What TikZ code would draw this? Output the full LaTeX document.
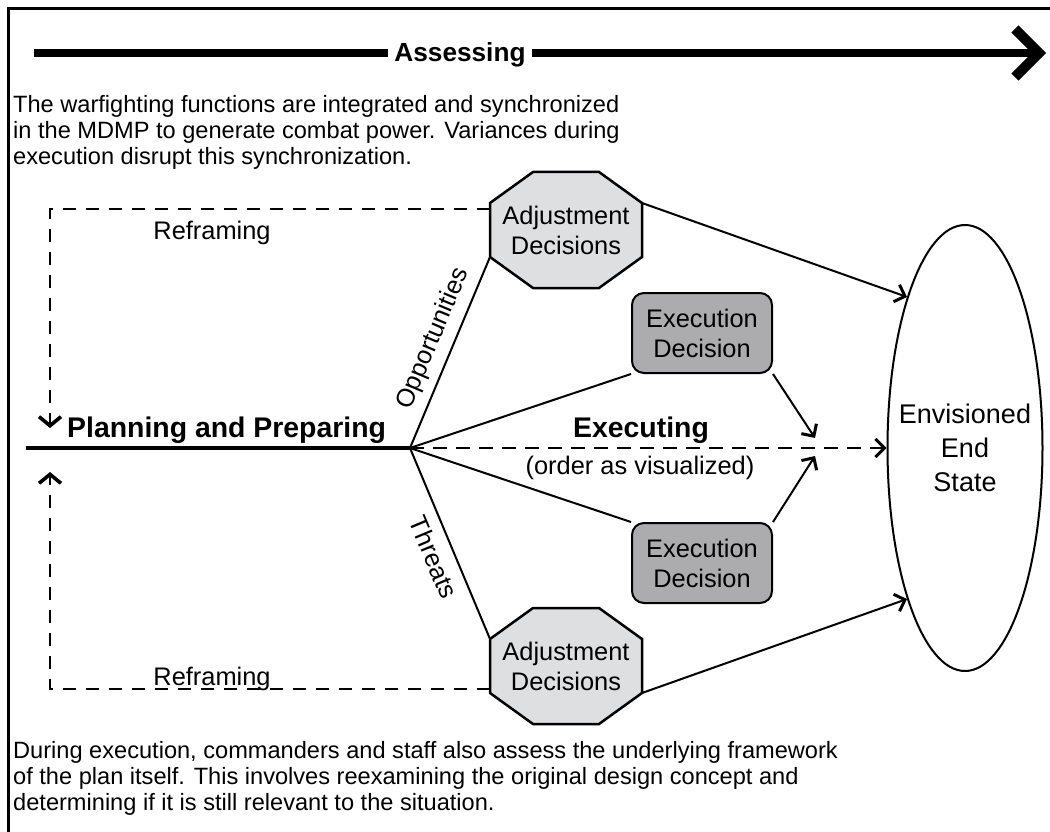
\documentclass[tikz,border=0pt]{standalone}
\usepackage{fontspec}
\setmainfont{Liberation Sans}
\usetikzlibrary{positioning,arrows.meta,shapes.geometric}
\definecolor{adjgray}{RGB}{222,223,225}
\definecolor{exegray}{RGB}{172,172,175}
\tikzset{
  para/.style={anchor=west,align=left,inner sep=0pt,font=\fontsize{23.6}{26}\selectfont},
  lab/.style={inner sep=0pt,align=center,font=\fontsize{25.4}{30}\selectfont},
  bold/.style={inner sep=0pt,font=\fontsize{28.4}{34}\selectfont\bfseries},
  link/.style={line width=2pt},
  tip/.style={-{Straight Barb[length=9pt,width=18pt,line width=3pt]}},
  refr/.style={line width=2.6pt,dash pattern=on 13pt off 10pt,-{Straight Barb[length=9pt,width=22pt,line width=3.6pt]}},
  octa/.style={draw,line width=2.5pt,fill=adjgray,line join=miter},
  exebox/.style={lab,draw,line width=2pt,fill=exegray,rounded corners=12pt,minimum width=140pt,minimum height=80pt}
}

\begin{document}
\begin{tikzpicture}[x=1pt,y=-1pt]
  \useasboundingbox (0,0) rectangle (1050,832);
  \draw [line width=3pt](8,832) -- (8,9) -- (1050,9);

  % assessing
  \coordinate (assstart) at(34,53);
  \coordinate (assend) at(1046,53);
  \draw [line width=8pt,-{Straight Barb[length=24pt,width=48pt,line width=10pt]}](assstart) -- (assend);
  \node[bold,fill=white,inner xsep=6pt,inner ysep=2pt,font=\fontsize{26.2}{30}\selectfont\bfseries,anchor=base] at(460,62)(ass){Assessing};

  \node[para] at(13,132)(toptext){The warfighting functions are integrated and synchronized\\in the MDMP to generate combat power. Variances during\\execution disrupt this synchronization.};
  \node[para] at(13,778)(bottext){During execution, commanders and staff also assess the underlying framework\\of the plan itself. This involves reexamining the original design concept and\\determining if it is still relevant to the situation.};

  % adjustment decisions
  \foreach \nm/\cy in {adjtop/230,adjbot/666}{
    \draw [octa](533,\cy-58) -- (599,\cy-58) -- (642,\cy-27) coordinate(\nm-ne) -- (642,\cy+27) coordinate(\nm-se)
      -- (599,\cy+58) -- (533,\cy+58) -- (490,\cy+27) coordinate(\nm-sw) -- (490,\cy-27) coordinate(\nm-nw) -- cycle;
    \node[lab] at(566,\cy)(\nm){Adjustment\\Decisions};
  }

  \node[exebox] at(702,333)(exetop){Execution\\Decision};
  \node[exebox] at(702,563)(exebot){Execution\\Decision};

  \node[draw,ellipse,line width=2pt,minimum width=155pt,minimum height=446pt,inner sep=0pt] at(965,448)(ell){};
  \node[lab,font=\fontsize{27}{34}\selectfont] at(ell.center)(endstate){Envisioned\\End\\State};

  % planning and preparing
  \coordinate (planstart) at(26,448);
  \coordinate (fan) at(410,448);
  \draw [line width=4pt](planstart) -- (fan);
  \node[bold,anchor=base west] at(67,437)(plan){Planning and Preparing};

  % reframing
  \coordinate (reftop) at(490,209);
  \coordinate (refbot) at(490,689);
  \coordinate (cornertop) at(50,209);
  \coordinate (cornerbot) at(50,689);
  \coordinate (downtip) at(50,428);
  \coordinate (uptip) at(50,472);
  \draw [refr](reftop) -- (cornertop) -- (downtip);
  \draw [refr](refbot) -- (cornerbot) -- (uptip);
  \node[lab,anchor=base] at(212,239)(reframetop){Reframing};
  \node[lab,anchor=base] at(212,685)(reframebot){Reframing};

  % executing
  \draw [link](fan) -- node[lab,sloped,above=8pt,pos=0.53]{Opportunities} (adjtop-sw);
  \draw [link](fan) -- node[lab,sloped,below=10pt,pos=0.53]{Threats} (adjbot-nw);
  \draw [link](fan) -- (exetop.south west);
  \draw [link](fan) -- (exebot.north west);
  \draw [link,tip,dash pattern=on 14pt off 9pt](fan) -- (ell.west);
  \node[bold,anchor=base] at(641,437)(exec){Executing};
  \node[lab,anchor=base] at(640,474)(order){(order as visualized)};

  \coordinate (mergetop) at(815,438);
  \coordinate (mergebot) at(815,456);
  \draw [link,tip](exetop.south east) -- (mergetop);
  \draw [link,tip](exebot.north east) -- (mergebot);

  \draw [link,tip](adjtop-ne) -- (ell.111);
  \draw [link,tip](adjbot-se) -- (ell.249);

\end{tikzpicture}
\end{document}
